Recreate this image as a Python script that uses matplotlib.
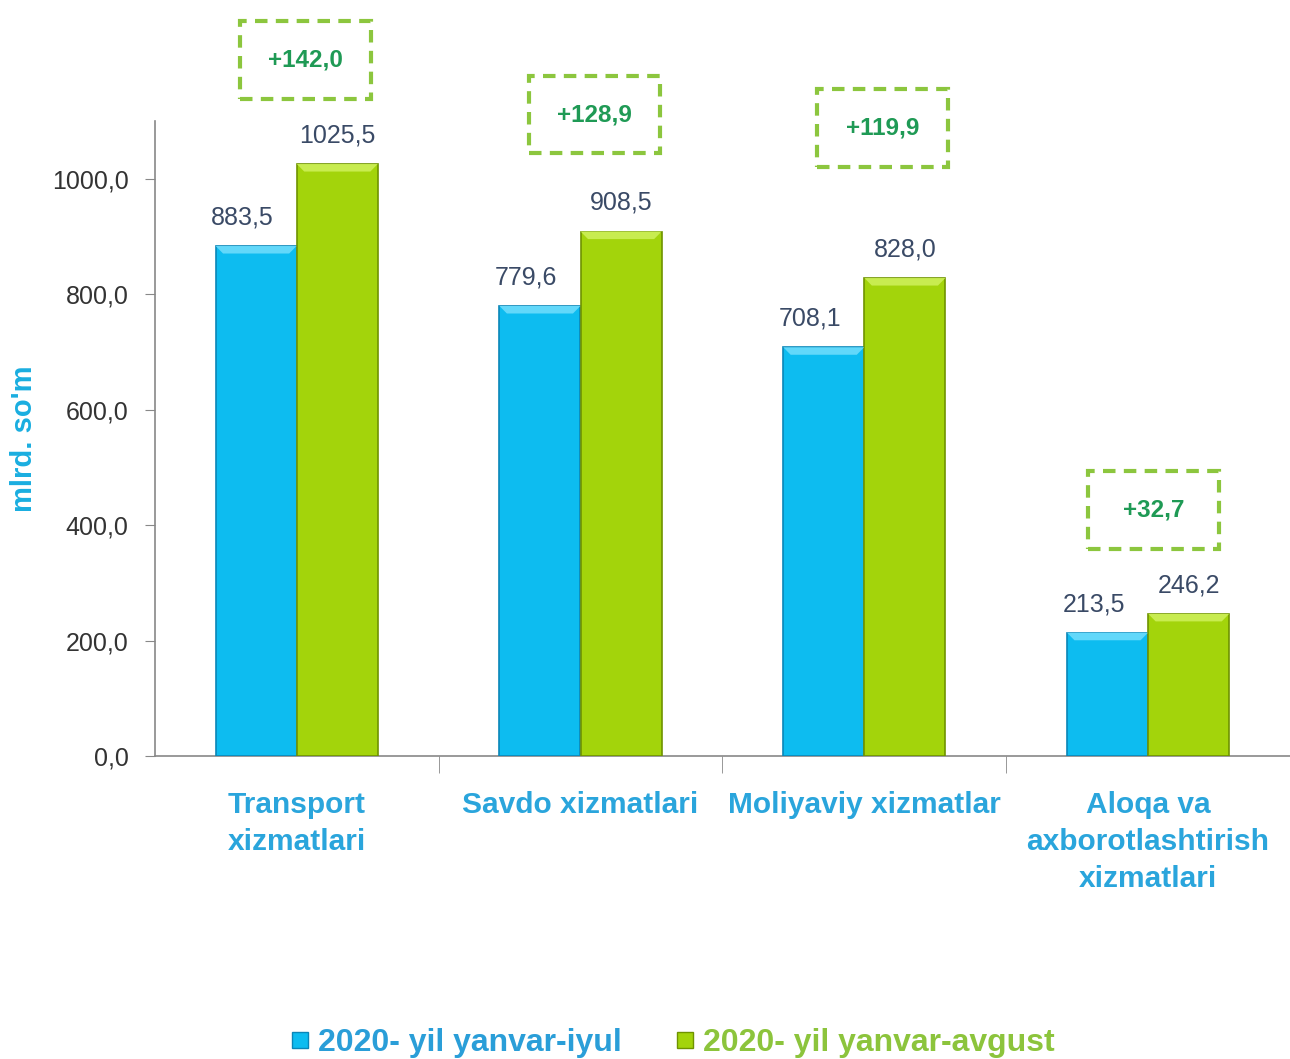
import numpy as np
from matplotlib import pyplot as plt
from matplotlib.patches import Polygon, Rectangle
from matplotlib.lines import Line2D

categories = ['Transport\nxizmatlari', 'Savdo xizmatlari', 'Moliyaviy xizmatlar',
              'Aloqa va\naxborotlashtirish\nxizmatlari']
jul = [883.5, 779.6, 708.1, 213.5]
aug = [1025.5, 908.5, 828.0, 246.2]
diff_labels = ['+142,0', '+128,9', '+119,9', '+32,7']
series = ['2020- yil yanvar-iyul', '2020- yil yanvar-avgust']
yticks = [0, 200, 400, 600, 800, 1000]

# where the dashed boxes sit (layout, not data)
box_x = [0.03, 1.05, 2.065, 3.02]
box_y = [1206, 1111, 1088, 426]

blue, blue_top, blue_edge = '#0DBCF0', '#62D8FA', '#0A86B8'
green, green_top, green_edge = '#A3D40B', '#C8EC50', '#6F9300'

def fmt(v):
    return ('%.1f' % v).replace('.', ',')

fig = plt.figure(figsize=(12.9, 10.59), dpi=100)
ax = fig.add_axes([0.120, 0.2861, 0.88, 0.5996])

x = np.arange(len(categories))
w = 0.285
off = 0.143

def bevel(xc, top, col):
    d = 0.026
    h = 13
    p = Polygon([[xc - w/2, top], [xc + w/2, top], [xc + w/2 - d, top - h], [xc - w/2 + d, top - h]],
                closed=True, fc=col, ec='none', zorder=4)
    ax.add_patch(p)

for i in range(len(x)):
    xb = x[i] - off
    xg = x[i] + off
    ax.bar(xb, jul[i], w, color=blue, edgecolor=blue_edge, lw=1.2, zorder=3)
    ax.bar(xg, aug[i], w, color=green, edgecolor=green_edge, lw=1.2, zorder=3)
    bevel(xb, jul[i], blue_top)
    bevel(xg, aug[i], green_top)
    ax.annotate(fmt(jul[i]), (xb, jul[i]), xytext=(-10, 12), textcoords='offset points',
                ha='center', va='bottom', fontsize=18, color='#3A4A66', family='Liberation Sans')
    ax.annotate(fmt(aug[i]), (xg, aug[i]), xytext=(0, 12), textcoords='offset points',
                ha='center', va='bottom', fontsize=18, color='#3A4A66', family='Liberation Sans')
    # dashed difference box
    bw, bh = 0.463, 134
    r = Rectangle((box_x[i] - bw/2, box_y[i] - bh/2), bw, bh, fill=False, ec='#8CC63E',
                  lw=3, ls=(0, (3, 2)), clip_on=False, zorder=5)
    ax.add_patch(r)
    ax.text(box_x[i], box_y[i], diff_labels[i], ha='center', va='center', fontsize=17.5,
            fontweight='bold', color='#1F9A55', family='Liberation Sans', clip_on=False)

ax.set_xlim(-0.5, 3.5)
ax.set_ylim(0, 1100)
ax.set_yticks(yticks)
ax.set_yticklabels([fmt(v) for v in yticks], fontsize=18, color='#333333', family='Liberation Sans')
ax.tick_params(axis='y', length=7, pad=12, color='#888888')

ax.set_xticks(x)
ax.set_xticklabels(categories, fontsize=21.5, fontweight='bold', color='#2AA5DC',
                   family='Liberation Sans', linespacing=1.42, va='top')
ax.tick_params(axis='x', which='major', length=0, pad=25)
ax.set_xticks(x[:-1] + 0.5, minor=True)
ax.tick_params(axis='x', which='minor', length=12, color='#888888')

for s in ['top', 'right']:
    ax.spines[s].set_visible(False)
for s in ['left', 'bottom']:
    ax.spines[s].set_color('#888888')
    ax.spines[s].set_linewidth(1.2)

ax.set_ylabel("mlrd. so'm", fontsize=21, fontweight='bold', color='#1AAEE0',
              family='Liberation Sans', labelpad=10)

handles = [Line2D([], [], marker='s', ls='none', ms=11, mfc=blue, mec=blue_edge),
           Line2D([], [], marker='s', ls='none', ms=11, mfc=green, mec=green_edge)]
leg = fig.legend(handles, series, loc='center', bbox_to_anchor=(0.52, 0.015), ncol=2,
                 frameon=False, handletextpad=0.15, columnspacing=1.6, handlelength=0.8,
                 prop={'family': 'Liberation Sans', 'size': 23, 'weight': 'bold'})
for t, c in zip(leg.get_texts(), ['#2A9ED8', '#8CC43C']):
    t.set_color(c)

fig.savefig('out.png', dpi=100)
